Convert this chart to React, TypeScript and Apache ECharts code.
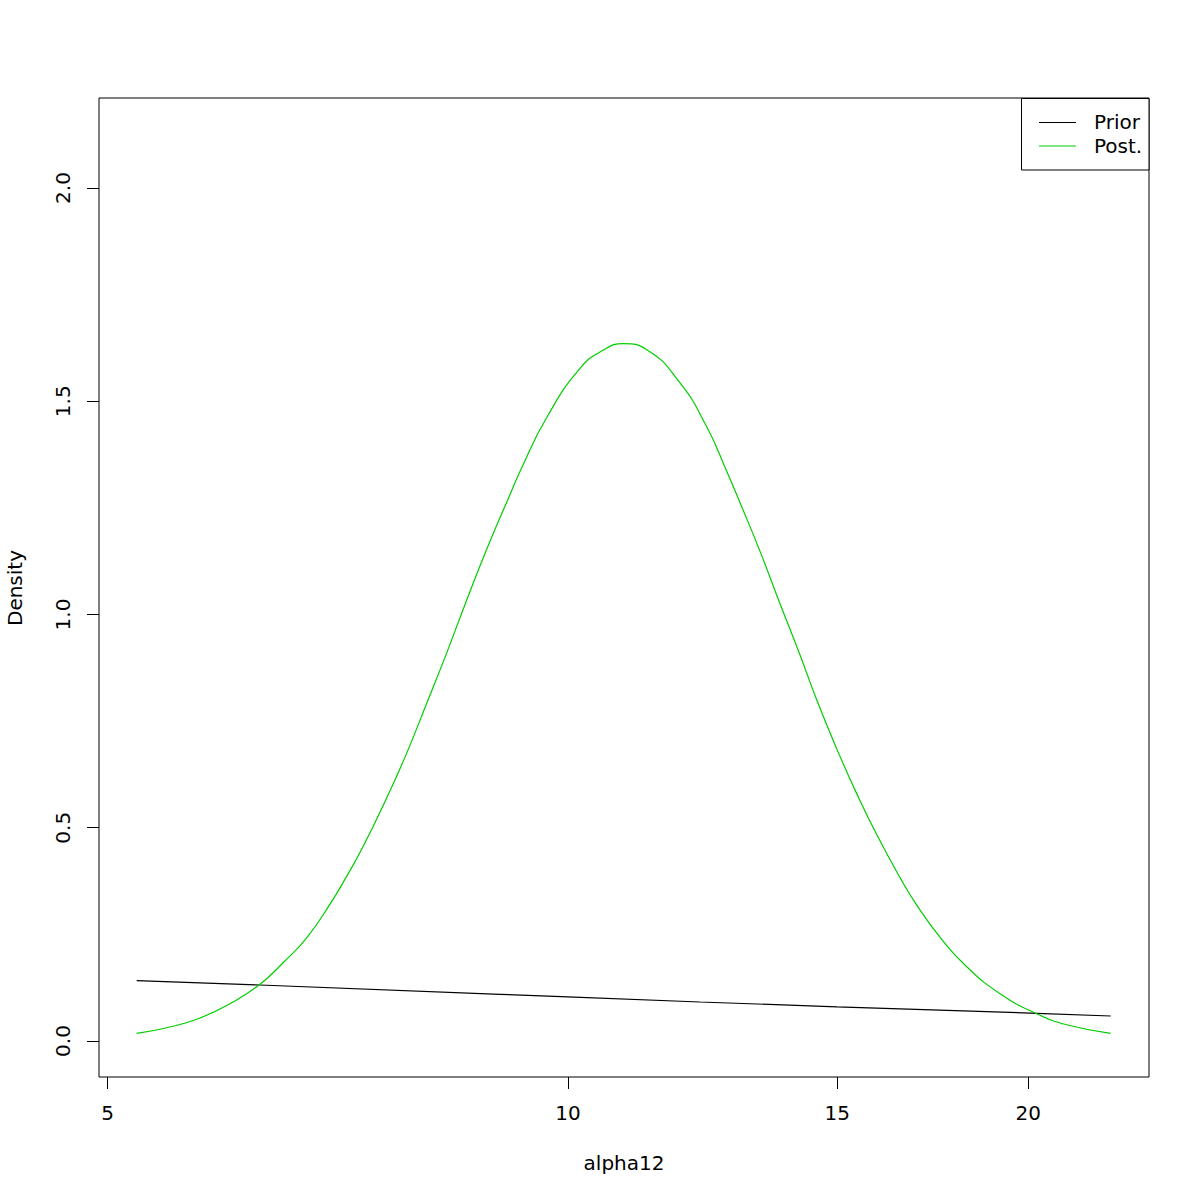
import React, { useEffect, useRef } from "react";
import * as echarts from "echarts";

// Posterior density (x in original units, plotted on a log x axis)
const postX = [
  5.224, 5.466, 5.747, 6.042, 6.29, 6.515, 6.748, 6.989, 7.166, 7.349, 7.612,
  7.845, 8.085, 8.332, 8.587, 8.849, 9.142, 9.328, 9.686, 10.184, 10.548,
  10.87, 11.26, 11.839, 12.325, 12.701, 12.945, 13.355, 13.763, 14.184, 14.544,
  14.99, 15.448, 15.92, 16.489, 16.906, 17.558, 18.23, 19.169, 20.257, 21.193,
  22.644,
];
const postY = [
  0.018, 0.031, 0.054, 0.092, 0.133, 0.184, 0.242, 0.321, 0.386, 0.457, 0.57,
  0.675, 0.792, 0.91, 1.034, 1.153, 1.272, 1.344, 1.462, 1.577, 1.62, 1.635,
  1.621, 1.543, 1.44, 1.336, 1.266, 1.148, 1.025, 0.905, 0.8, 0.685, 0.58,
  0.484, 0.383, 0.319, 0.238, 0.174, 0.111, 0.064, 0.038, 0.018,
];

// Prior density
const priorX = [5.224, 6.29, 9.028, 10, 12.2, 15, 20.257, 22.644];
const priorY = [0.1414, 0.1313, 0.1095, 0.1033, 0.0914, 0.0802, 0.065, 0.0586];

const xTicks = [5, 10, 15, 20];
const yTicks = [0, 0.5, 1, 1.5, 2];
const yTickLabels = ["0.0", "0.5", "1.0", "1.5", "2.0"];
const legendLabels = ["Prior", "Post."];
const seriesColors = ["#000000", "#00CD00"];
const xTitle = "alpha12";
const yTitle = "Density";

export default function App() {
  const ref = useRef<HTMLDivElement>(null);
  useEffect(() => {
    const chart = echarts.init(ref.current!, null, { renderer: "svg" });
    const font = "DejaVu Sans";
    const priorData = priorX.map((x, i) => [Math.log(x), priorY[i]]);
    const postData = postX.map((x, i) => [Math.log(x), postY[i]]);
    chart.setOption({
      animation: false,
      backgroundColor: "#ffffff",
      grid: {
        left: 99,
        top: 98,
        width: 1050,
        height: 979,
        show: true,
        borderColor: "#000",
        borderWidth: 1,
        backgroundColor: "transparent",
      },
      xAxis: {
        type: "value",
        min: 1.5965,
        max: 3.1776,
        axisLine: { show: false, onZero: false },
        splitLine: { show: false },
        axisTick: {
          show: true,
          length: 12,
          customValues: xTicks.map((v) => Math.log(v)),
          lineStyle: { color: "#000", width: 1 },
        },
        axisLabel: {
          customValues: xTicks.map((v) => Math.log(v)),
          formatter: (v: number) => String(Math.round(Math.exp(v))),
          fontSize: 20,
          color: "#000",
          fontFamily: font,
          margin: 26,
        },
      },
      yAxis: {
        type: "value",
        min: -0.08441,
        max: 2.211,
        axisLine: { show: false, onZero: false },
        splitLine: { show: false },
        axisTick: {
          show: true,
          length: 12,
          customValues: yTicks,
          lineStyle: { color: "#000", width: 1 },
        },
        axisLabel: {
          customValues: yTicks,
          formatter: (v: number) => yTickLabels[yTicks.indexOf(v)] ?? v.toFixed(1),
          rotate: 90,
          fontSize: 20,
          color: "#000",
          fontFamily: font,
          margin: 26,
        },
      },
      series: [
        {
          name: legendLabels[0],
          type: "line",
          data: priorData,
          showSymbol: false,
          smooth: false,
          lineStyle: { color: seriesColors[0], width: 1.2 },
        },
        {
          name: legendLabels[1],
          type: "line",
          data: postData,
          showSymbol: false,
          smooth: 0.5,
          lineStyle: { color: seriesColors[1], width: 1.2 },
        },
      ],
      graphic: [
        {
          type: "text",
          x: 624,
          y: 1163,
          style: {
            text: xTitle,
            fontSize: 20,
            fontFamily: font,
            fill: "#000",
            align: "center",
            verticalAlign: "middle",
          },
        },
        {
          type: "text",
          x: 15,
          y: 588,
          rotation: Math.PI / 2,
          style: {
            text: yTitle,
            fontSize: 20,
            fontFamily: font,
            fill: "#000",
            align: "center",
            verticalAlign: "middle",
          },
        },
        {
          type: "rect",
          z: 100,
          shape: { x: 1021.5, y: 98.5, width: 127.5, height: 71.5 },
          style: { fill: "#fff", stroke: "#000", lineWidth: 1 },
        },
        ...legendLabels.flatMap((label, i) => [
          {
            type: "line",
            z: 101,
            shape: { x1: 1039, y1: 122.5 + i * 23.5, x2: 1076, y2: 122.5 + i * 23.5 },
            style: { stroke: seriesColors[i], lineWidth: 1.2 },
          },
          {
            type: "text",
            z: 101,
            x: 1094,
            y: 122 + i * 23.5,
            style: {
              text: label,
              fontSize: 20,
              fontFamily: font,
              fill: "#000",
              align: "left",
              verticalAlign: "middle",
            },
          },
        ]),
      ],
    });
    return () => chart.dispose();
  }, []);
  return (
    <div
      ref={ref}
      style={{ position: "absolute", left: 0, top: 0, width: 1200, height: 1200 }}
    />
  );
}
